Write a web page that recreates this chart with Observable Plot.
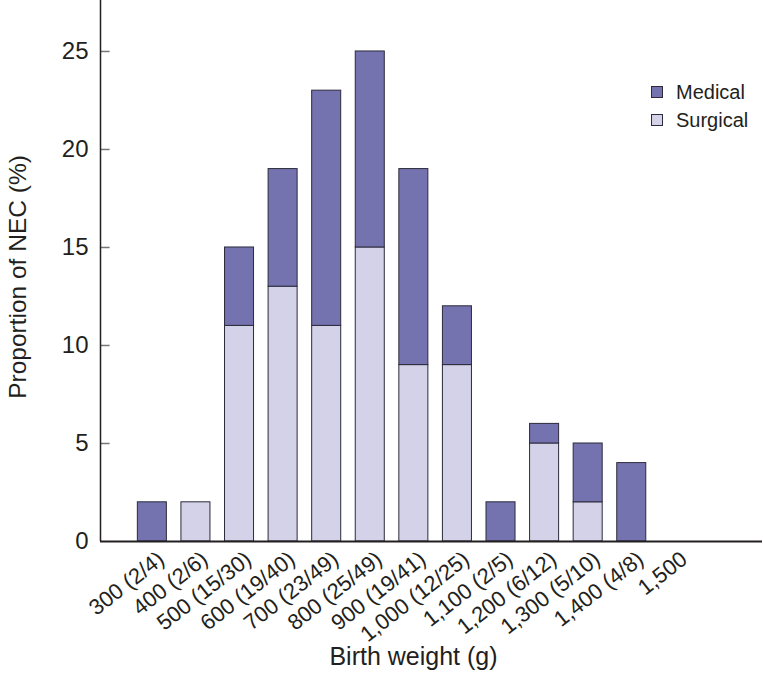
<!DOCTYPE html>
<html>
<head>
<meta charset="utf-8">
<script src="https://cdn.jsdelivr.net/npm/d3@7"></script>
<script src="https://cdn.jsdelivr.net/npm/@observablehq/plot@0.6"></script>
<style>
  html, body { margin: 0; padding: 0; background: #fff; }
  #wrap { position: relative; width: 763px; height: 677px; font-family: "Liberation Sans", Arial, sans-serif; }
  #legend { position: absolute; left: 651px; top: 78px; font-size: 20px; color: #231f20; line-height: 28px; }
  #legend .sw { display: inline-block; width: 10px; height: 10px; border: 1px solid #2b2b3b; margin-right: 13px; vertical-align: 1px; }
</style>
</head>
<body>
<div id="wrap"><div id="legend"></div></div>
<script>
const categories = ["300 (2/4)", "400 (2/6)", "500 (15/30)", "600 (19/40)", "700 (23/49)", "800 (25/49)", "900 (19/41)", "1,000 (12/25)", "1,100 (2/5)", "1,200 (6/12)", "1,300 (5/10)", "1,400 (4/8)", "1,500"];
const surgical = [0, 2, 11, 13, 11, 15, 9, 9, 0, 5, 2, 0, null];
const medical  = [2, 0, 4, 6, 12, 10, 10, 3, 2, 1, 3, 4, null];
const seriesNames = ["Surgical", "Medical"];
const seriesColors = ["#d3d2e8", "#7473b0"];
const yTicks = [0, 5, 10, 15, 20, 25];

const rows = [];
categories.forEach((c, i) => {
  if (surgical[i] == null) return;
  rows.push({i, series: "Surgical", value: surgical[i]});
  rows.push({i, series: "Medical", value: medical[i]});
});

const half = 0.333;
const font = "'Liberation Sans', Arial, sans-serif";

const chart = Plot.plot({
  width: 763,
  height: 677,
  marginLeft: 100,
  marginRight: 1,
  marginTop: 0,
  marginBottom: 136,
  style: {fontFamily: font, color: "#231f20", background: "white"},
  x: {type: "linear", domain: [-1.19, 14], axis: null},
  y: {domain: [0, 27.6], axis: null},
  color: {domain: seriesNames, range: seriesColors},
  marks: [
    Plot.rectY(rows.filter(d => d.value > 0), Plot.stackY({
      x1: d => d.i - half,
      x2: d => d.i + half,
      y: "value",
      fill: "series",
      order: seriesNames,
      stroke: "#2b2b3b",
      strokeWidth: 1
    })),
    Plot.ruleY(yTicks.filter(t => t > 0), {x1: -1.19, x2: -0.97, stroke: "#777", strokeWidth: 1.5}),
    Plot.text(yTicks, {x: -1.19, y: d => d, text: d => String(d), textAnchor: "end", dx: -12, fontSize: 24, lineAnchor: "middle"}),
    Plot.ruleY([0], {stroke: "#231f20", strokeWidth: 2}),
    Plot.ruleX([-1.19], {stroke: "#231f20", strokeWidth: 1.5}),
    Plot.text(categories, {x: (d, i) => i, y: 0, text: d => d, rotate: -38, textAnchor: "end", lineAnchor: "middle", dx: 9, dy: 15, fontSize: 22}),
    Plot.text(["Birth weight (g)"], {frameAnchor: "bottom", dx: -18, dy: 123, fontSize: 25}),
    Plot.text(["Proportion of NEC (%)"], {frameAnchor: "left", rotate: -90, textAnchor: "middle", lineAnchor: "middle", dx: -82, dy: 6, fontSize: 24.5})
  ]
});
document.getElementById("wrap").prepend(chart);

const legend = document.getElementById("legend");
[["Medical", seriesColors[1]], ["Surgical", seriesColors[0]]].forEach(([name, col]) => {
  const row = document.createElement("div");
  const sw = document.createElement("span");
  sw.className = "sw";
  sw.style.background = col;
  row.appendChild(sw);
  row.appendChild(document.createTextNode(name));
  legend.appendChild(row);
});
</script>
</body>
</html>
